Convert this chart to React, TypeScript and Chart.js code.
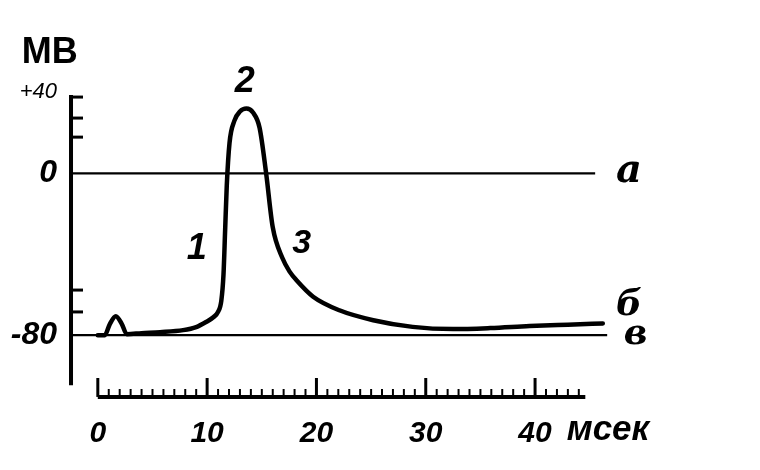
import React, { useEffect, useRef } from 'react';
import { Chart, registerables } from 'chart.js';

Chart.register(...registerables);

// ---- data ----
// action potential trace: time (ms) and membrane potential (mV)
const timeMs = [0, 0.64, 1.1, 1.65, 2.2, 2.65, 4.0, 5.7, 7.8, 9.0, 9.9, 10.6, 11.0, 11.3, 11.5, 11.65, 11.8, 12.05, 12.5, 13.0, 13.6, 14.2, 14.8, 15.4, 16.0, 16.9, 17.55, 18.2, 19.7, 22.1, 25.2, 28.8, 32.5, 35.9, 39.5, 43.0, 46.2];
const potentialMv = [-80, -80, -74.5, -70.6, -74.5, -79.5, -79, -78.5, -77.5, -76, -73.5, -71, -68.5, -63, -50, -28, -6, 15, 26, 30.5, 32, 30, 22.5, 0, -26.5, -42, -48.6, -53, -61, -67.7, -72.6, -75.9, -77, -76.5, -75.5, -74.8, -74.2];

// reference lines: "а" (zero potential) and "в" (resting level)
const zeroLevelMv = 0;
const zeroLineSpanMs = [-2.45, 45.5];
const restLevelMv = -80;
const restLineSpanMs = [-2.45, 46.6];

// hand-drawn vertical (mV) axis
const yAxisAtMs = -2.45;
const yAxisSpanMv = [38.7, -104.7];
const yAxisMarksMv = [37.7, 27.3, 17.9, -57.7, -68.5];
const yTickValues = [40, 0, -80];
const yTickLabels = ['+40', '0', '-80'];

// time ruler (ms)
const rulerLevelMv = -110.5;
const rulerSpanMs = [0, 44.6];
const rulerMajorMs = [0, 10, 20, 30, 40];
const rulerMinorMs = [1, 2, 3, 4, 5, 6, 7, 8, 9, 11, 12, 13, 14, 15, 16, 17, 18, 19, 21, 22, 23, 24, 25, 26, 27, 28, 29, 31, 32, 33, 34, 35, 36, 37, 38, 39, 41, 42, 43, 44];
const xTickValues = [0, 10, 20, 30, 40];

// text marks on the drawing (anchored in data units)
const notes = [
  { text: 'МВ', x: -4.4, y: 59.3, font: 'bold 36px "Liberation Sans"', align: 'center' },
  { text: '2', x: 13.45, y: 45, font: 'italic bold 36px "Liberation Sans"', align: 'center' },
  { text: '1', x: 9.06, y: -37.5, font: 'italic bold 36px "Liberation Sans"', align: 'center' },
  { text: '3', x: 18.66, y: -34.6, font: 'italic bold 34px "Liberation Sans"', align: 'center' },
  { text: 'а', x: 48.6, y: 1, font: 'italic bold 40px "DejaVu Serif"', align: 'center' },
  { text: 'б', x: 48.6, y: -65.5, font: 'italic bold 36px "DejaVu Serif"', align: 'center' },
  { text: 'в', x: 49.2, y: -79.5, font: 'italic bold 36px "DejaVu Serif"', align: 'center' },
  { text: 'мсек', x: 42.9, y: -126.9, font: 'italic bold 35px "Liberation Sans"', align: 'left' },
];

const X_MIN = -3;
const X_MAX = 55;
const Y_MIN = -115;
const Y_MAX = 55;

function tickImage(len: number, width: number, dir: 'up' | 'right'): HTMLCanvasElement {
  const c = document.createElement('canvas');
  const g = c.getContext('2d')!;
  if (dir === 'up') {
    c.width = width + 2;
    c.height = len * 2;
    g.fillStyle = '#000';
    g.fillRect(1, 0, width, len);
  } else {
    c.width = len * 2;
    c.height = width + 2;
    g.fillStyle = '#000';
    g.fillRect(len, 1, len, width);
  }
  return c;
}

const notesPlugin = {
  id: 'notes',
  afterDatasetsDraw(chart: any) {
    const { ctx, scales } = chart;
    ctx.save();
    ctx.fillStyle = '#000';
    ctx.textBaseline = 'middle';
    for (const n of notes) {
      ctx.font = n.font;
      ctx.textAlign = n.align;
      ctx.fillText(n.text, scales.x.getPixelForValue(n.x), scales.y.getPixelForValue(n.y));
    }
    ctx.restore();
  },
};

export default function App() {
  const ref = useRef<HTMLCanvasElement | null>(null);

  useEffect(() => {
    if (!ref.current) return;
    const minorImg = tickImage(8, 2, 'up');
    const majorImg = tickImage(19, 3, 'up');
    const markImg = tickImage(12, 3, 'right');

    const line = (xs: number[], ys: number[]) => xs.map((x, i) => ({ x, y: ys[i] }));

    const chart = new Chart(ref.current, {
      type: 'scatter',
      data: {
        datasets: [
          {
            label: 'а',
            data: line(zeroLineSpanMs, [zeroLevelMv, zeroLevelMv]),
            showLine: true, borderColor: '#000', borderWidth: 2.2, pointRadius: 0,
          },
          {
            label: 'в',
            data: line(restLineSpanMs, [restLevelMv, restLevelMv]),
            showLine: true, borderColor: '#000', borderWidth: 2.2, pointRadius: 0,
          },
          {
            label: 'axis',
            data: line([yAxisAtMs, yAxisAtMs], yAxisSpanMv),
            showLine: true, borderColor: '#000', borderWidth: 4, pointRadius: 0,
          },
          {
            label: 'axis marks',
            data: yAxisMarksMv.map((y) => ({ x: yAxisAtMs, y })),
            showLine: false, pointStyle: markImg as any, pointRadius: 5,
          },
          {
            label: 'ruler',
            data: line(rulerSpanMs, [rulerLevelMv, rulerLevelMv]),
            showLine: true, borderColor: '#000', borderWidth: 4, pointRadius: 0,
          },
          {
            label: 'ruler minor',
            data: rulerMinorMs.map((x) => ({ x, y: rulerLevelMv })),
            showLine: false, pointStyle: minorImg as any, pointRadius: 5,
          },
          {
            label: 'ruler major',
            data: rulerMajorMs.map((x) => ({ x, y: rulerLevelMv })),
            showLine: false, pointStyle: majorImg as any, pointRadius: 5,
          },
          {
            label: 'б',
            data: line(timeMs, potentialMv),
            showLine: true, borderColor: '#000', borderWidth: 4.5, pointRadius: 0,
            cubicInterpolationMode: 'monotone', borderCapStyle: 'round', borderJoinStyle: 'round',
          } as any,
        ],
      },
      options: {
        animation: false,
        responsive: true,
        maintainAspectRatio: false,
        layout: { padding: { top: 62, right: 61, left: 0, bottom: 0 } },
        plugins: { legend: { display: false }, tooltip: { enabled: false } },
        scales: {
          x: {
            type: 'linear',
            min: X_MIN,
            max: X_MAX,
            border: { display: false },
            grid: { display: false, drawTicks: false },
            afterBuildTicks: (s: any) => { s.ticks = xTickValues.map((v) => ({ value: v })); },
            afterFit: (s: any) => { s.height = 64; },
            ticks: {
              color: '#000',
              padding: 10,
              autoSkip: false,
              maxRotation: 0,
              font: { family: '"Liberation Sans"', size: 30, style: 'italic', weight: 'bold' },
              callback: (v: any) => String(v),
            },
          },
          y: {
            type: 'linear',
            min: Y_MIN,
            max: Y_MAX,
            border: { display: false },
            grid: { display: false, drawTicks: false },
            afterBuildTicks: (s: any) => { s.ticks = yTickValues.map((v) => ({ value: v })); },
            afterFit: (s: any) => { s.width = 65; },
            ticks: {
              color: '#000',
              padding: 8,
              autoSkip: false,
              font: (c: any) =>
                c.tick && c.tick.value === 40
                  ? { family: '"Liberation Sans"', size: 22, style: 'italic' }
                  : { family: '"Liberation Sans"', size: 32, style: 'italic', weight: 'bold' },
              callback: (v: any) => yTickLabels[yTickValues.indexOf(Number(v))],
            },
          },
        },
      } as any,
      plugins: [notesPlugin as any],
    });
    return () => chart.destroy();
  }, []);

  return (
    <div style={{ position: 'fixed', left: 0, top: 0, width: 760, height: 470, background: '#fff' }}>
      <canvas ref={ref} />
    </div>
  );
}
